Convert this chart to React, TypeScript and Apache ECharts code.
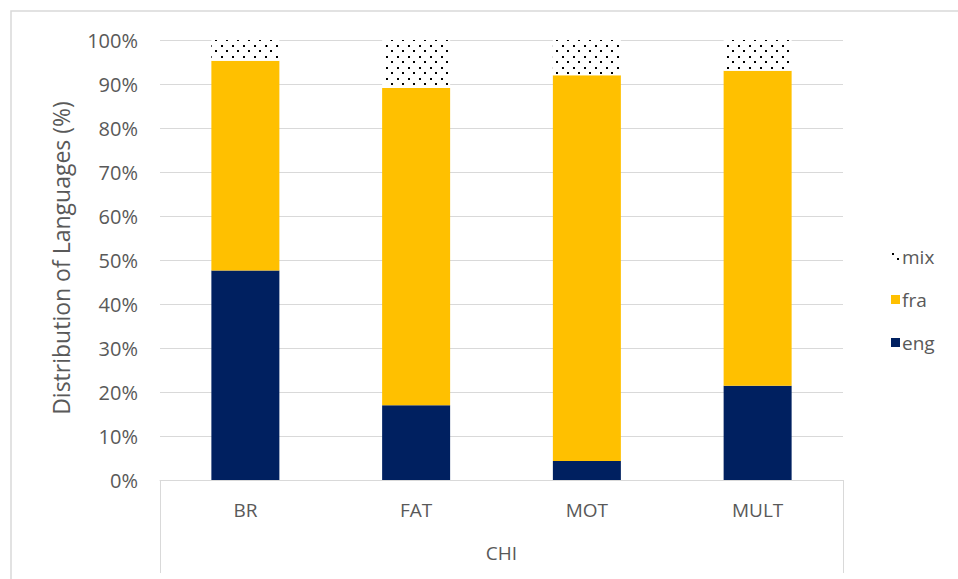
import React, { useEffect, useRef } from "react";
import * as echarts from "echarts";

const categories = ["BR", "FAT", "MOT", "MULT"];
const groupLabel = ["CHI"];
const engValues = [47.6, 17.0, 4.3, 21.4];
const fraValues = [47.7, 72.1, 87.7, 71.6];
const mixValues = [4.7, 10.9, 8.0, 7.0];
const legendOrder = ["mix", "fra", "eng"];
const yTitle = "Distribution of Languages (%)";

const FONT = "Open Sans";
const TEXT = "#595959";
const GRID = "#d9d9d9";

function makeDots(): string {
  const c = document.createElement("canvas");
  c.width = 11;
  c.height = 11;
  const ctx = c.getContext("2d")!;
  ctx.fillStyle = "#ffffff";
  ctx.fillRect(0, 0, 11, 11);
  ctx.fillStyle = "#000000";
  ctx.fillRect(1, 1, 2, 2);
  ctx.fillRect(6, 6, 2, 2);
  return c.toDataURL();
}

export default function App() {
  const ref = useRef<HTMLDivElement>(null);
  useEffect(() => {
    const chart = echarts.init(ref.current!, null, { renderer: "svg" });
    const dots = makeDots();
    const mixFill: any = { image: dots, repeat: "repeat", imageWidth: 11, imageHeight: 11 };
    chart.setOption({
      animation: false,
      backgroundColor: "#ffffff",
      textStyle: { fontFamily: FONT },
      grid: { left: 160, right: 115, top: 40, bottom: 99 },
      legend: {
        orient: "vertical",
        left: 886,
        top: 242,
        itemWidth: 9,
        itemHeight: 9,
        itemGap: 24,
        data: legendOrder,
        icon: "rect",
        textStyle: { color: TEXT, fontSize: 19, fontFamily: FONT, padding: [0, 0, 0, -3] },
      },
      xAxis: [
        {
          type: "category",
          data: categories,
          position: "bottom",
          axisLine: { show: true, lineStyle: { color: GRID, width: 1 } },
          axisTick: { show: false },
          axisLabel: { color: TEXT, fontSize: 19, fontFamily: FONT, margin: 20 },
        },
        {
          type: "category",
          data: groupLabel,
          position: "bottom",
          axisLine: { show: false },
          axisTick: { show: true, length: 93, lineStyle: { color: GRID, width: 1 } },
          axisLabel: { color: TEXT, fontSize: 19, fontFamily: FONT, margin: 63 },
        },
      ],
      yAxis: {
        type: "value",
        min: 0,
        max: 100,
        interval: 10,
        axisLine: { show: false },
        axisTick: { show: false },
        splitLine: { lineStyle: { color: GRID, width: 1 } },
        axisLabel: { formatter: "{value}%", color: TEXT, fontSize: 20, fontFamily: FONT, margin: 22 },
      },
      graphic: [
        {
          type: "rect",
          shape: { x: 11, y: 11, width: 960, height: 600 },
          style: { fill: "none", stroke: GRID, lineWidth: 1.5 },
          silent: true,
        },
        {
          type: "text",
          x: 61,
          y: 258,
          rotation: Math.PI / 2,
          style: {
            text: yTitle,
            fill: TEXT,
            font: `23px "${FONT}"`,
            textAlign: "center",
            textVerticalAlign: "middle",
          },
        },
      ],
      series: [
        {
          name: "eng",
          type: "bar",
          stack: "total",
          barWidth: 68,
          data: engValues,
          itemStyle: { color: "#002060" },
        },
        {
          name: "fra",
          type: "bar",
          stack: "total",
          barWidth: 68,
          data: fraValues,
          itemStyle: { color: "#FFC000" },
        },
        {
          name: "mix",
          type: "bar",
          stack: "total",
          barWidth: 68,
          data: mixValues,
          itemStyle: { color: mixFill },
        },
      ],
    });
    return () => chart.dispose();
  }, []);
  return (
    <div
      ref={ref}
      style={{ position: "absolute", left: 0, top: 0, width: 958, height: 579 }}
    />
  );
}
